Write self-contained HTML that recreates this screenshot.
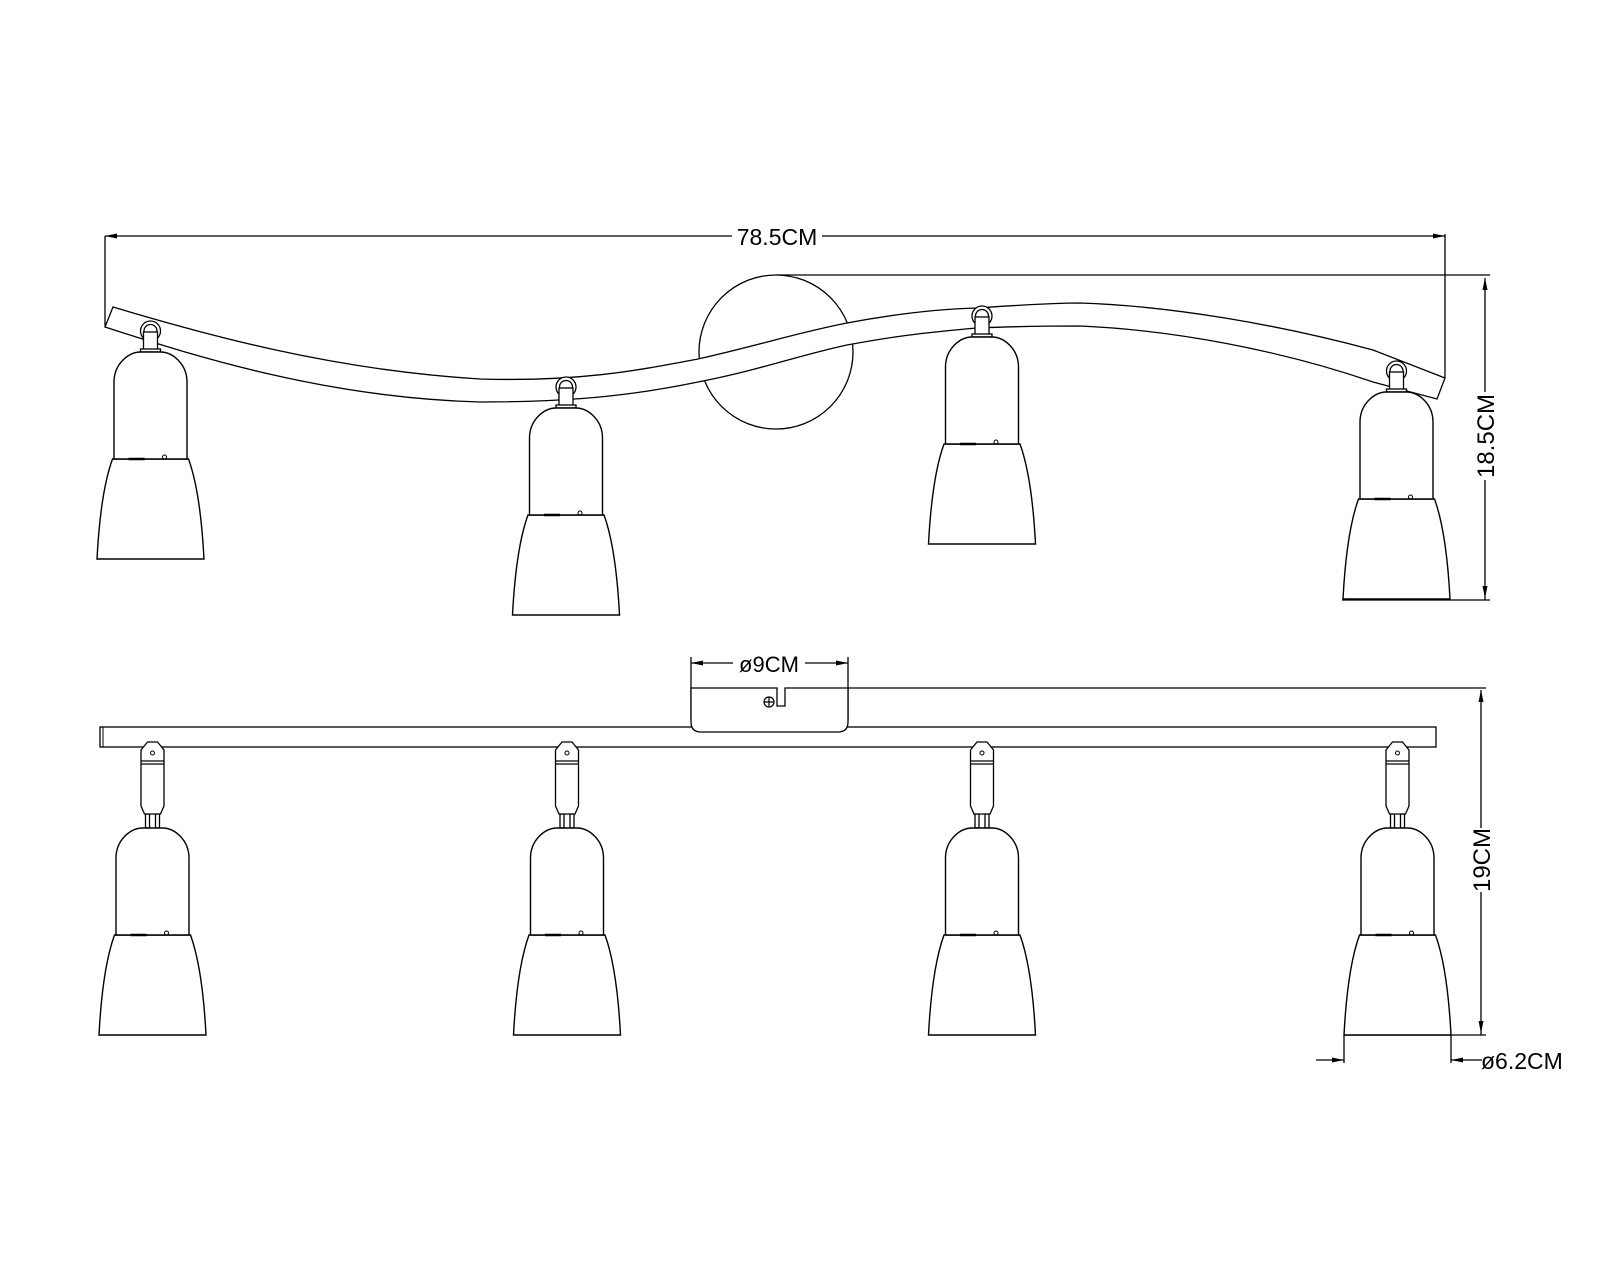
<!DOCTYPE html>
<html><head><meta charset="utf-8"><style>
html,body{margin:0;padding:0;background:#fff;}
svg{display:block}
text{font-family:"Liberation Sans",sans-serif;fill:#000;}
</style></head><body>
<svg width="1600" height="1280" viewBox="0 0 1600 1280" xmlns="http://www.w3.org/2000/svg">
<defs>
<g id="lamp" fill="#fff" stroke="#000" stroke-width="1.4">
  <path d="M-38,107 Q-50,140 -53.5,207 L53.5,207 Q50,140 38,107 Z"/>
  <path d="M-36.5,107 L-36.5,30 C-36.5,12 -22,0 -10,0 L10,0 C22,0 36.5,12 36.5,30 L36.5,107 Z"/>
  <path d="M-22,107 L-6,107" stroke-width="2.5"/>
  <circle cx="14" cy="105" r="2" fill="none" stroke-width="1"/>
</g>
<g id="neckT" fill="#fff" stroke="#000" stroke-width="1.3">
  <circle cx="0" cy="-21" r="10"/>
  <circle cx="0" cy="-21" r="6.5"/>
  <rect x="-7" y="-20" width="14" height="18"/>
  <rect x="-10" y="-3" width="20" height="3"/>
</g>
<g id="neckB" fill="#fff" stroke="#000" stroke-width="1.3">
  <rect x="-7" y="-14" width="4" height="14"/>
  <rect x="3" y="-14" width="4" height="14"/>
  <path d="M-11.5,-78 L-5,-86 L5,-86 L11.5,-78 L11.5,-22 L8,-14 L-8,-14 L-11.5,-22 Z"/>
  <path d="M-11.5,-67 L11.5,-67 M-11.5,-64 L11.5,-64" fill="none"/>
  <circle cx="0" cy="-75" r="2" fill="none" stroke-width="1"/>
</g>
</defs>

<g fill="none" stroke="#000" stroke-width="1.3">
<!-- top view dimension 78.5 -->
<line x1="105" y1="236" x2="1445" y2="236"/>
<line x1="105" y1="236" x2="105" y2="326"/>
<line x1="1445" y1="234" x2="1445" y2="378"/>
<line x1="776" y1="275" x2="1490" y2="275"/>
<line x1="1485" y1="278" x2="1485" y2="600"/>
<line x1="1342" y1="600" x2="1490" y2="600"/>
</g>
<g fill="#000">
<polygon points="105,236 117,233.5 117,238.5"/>
<polygon points="1445,236 1433,233.5 1433,238.5"/>
<polygon points="1485,278 1482.5,290 1487.5,290"/>
<polygon points="1485,598 1482.5,586 1487.5,586"/>
</g>
<rect x="732" y="224" width="90" height="24" fill="#fff"/>
<text x="777" y="245" font-size="23" text-anchor="middle">78.5CM</text>
<rect x="1472" y="392" width="26" height="88" fill="#fff"/>
<text transform="translate(1494,436) rotate(-90)" font-size="24" text-anchor="middle">18.5CM</text>

<!-- circle plate -->
<ellipse cx="776" cy="352" rx="77" ry="77" fill="#fff" stroke="#000" stroke-width="1.3"/>

<!-- curved bar -->
<path fill="#fff" stroke="#000" stroke-width="1.3" d="M113,307 C200,333 330,370 480,379 C580,382 640,370 698,359 C760,345 800,332 847,323 C900,313 940,309 977,308 C1020,305 1060,303 1080,303 C1173,306 1280,325 1373,350 L1445,378 L1437,399 L1373,382 C1280,350 1173,330 1080,326 C1040,326 1000,327 977,328 C920,333 890,337 847,345 C800,355 760,370 698,382 C640,394 580,402 480,402 C330,398 200,358 105,327 Z"/>

<!-- top lamps -->
<use href="#neckT" transform="translate(150.5,352)"/>
<use href="#lamp" transform="translate(150.5,352)"/>
<use href="#neckT" transform="translate(566,408)"/>
<use href="#lamp" transform="translate(566,408)"/>
<use href="#neckT" transform="translate(982,337)"/>
<use href="#lamp" transform="translate(982,337)"/>
<use href="#neckT" transform="translate(1396.5,392)"/>
<use href="#lamp" transform="translate(1396.5,392)"/>

<!-- bottom view -->
<g fill="none" stroke="#000" stroke-width="1.3">
<line x1="691" y1="663" x2="848" y2="663"/>
<line x1="691" y1="657" x2="691" y2="720"/>
<line x1="848" y1="657" x2="848" y2="720"/>
<line x1="848" y1="688" x2="1486" y2="688"/>
<line x1="1481" y1="690" x2="1481" y2="1035"/>
<line x1="1344" y1="1035" x2="1486" y2="1035"/>
<line x1="1344" y1="1035" x2="1344" y2="1063"/>
<line x1="1451" y1="1035" x2="1451" y2="1063"/>
<line x1="1316" y1="1060" x2="1344" y2="1060"/>
<line x1="1451" y1="1060" x2="1482" y2="1060"/>
</g>
<g fill="#000">
<polygon points="691,663 703,660.5 703,665.5"/>
<polygon points="848,663 836,660.5 836,665.5"/>
<polygon points="1481,690 1478.5,702 1483.5,702"/>
<polygon points="1481,1033 1478.5,1021 1483.5,1021"/>
<polygon points="1344,1060 1332,1057.5 1332,1062.5"/>
<polygon points="1451,1060 1463,1057.5 1463,1062.5"/>
</g>
<rect x="733" y="652" width="72" height="22" fill="#fff"/>
<text x="769" y="672" font-size="22" text-anchor="middle">ø9CM</text>
<rect x="1468" y="828" width="26" height="64" fill="#fff"/>
<text transform="translate(1490,860) rotate(-90)" font-size="24" text-anchor="middle">19CM</text>
<text x="1481" y="1069" font-size="23">ø6.2CM</text>

<rect x="100" y="727" width="1336" height="20" fill="#fff" stroke="#000" stroke-width="1.3"/>
<line x1="103" y1="727" x2="103" y2="747" stroke="#000" stroke-width="1"/>
<path d="M691,688 L691,722 Q691,732 701,732 L838,732 Q848,732 848,722 L848,688 L785,688 L785,706 L777,706 L777,688 Z" fill="#fff" stroke="#000" stroke-width="1.3"/>
<g fill="none" stroke="#000" stroke-width="1.2">
<circle cx="769" cy="702" r="5"/>
<path d="M764,702 L774,702 M769,697 L769,707"/>
</g>

<use href="#neckB" transform="translate(152.5,828)"/>
<use href="#lamp" transform="translate(152.5,828)"/>
<use href="#neckB" transform="translate(567,828)"/>
<use href="#lamp" transform="translate(567,828)"/>
<use href="#neckB" transform="translate(982,828)"/>
<use href="#lamp" transform="translate(982,828)"/>
<use href="#neckB" transform="translate(1397.5,828)"/>
<use href="#lamp" transform="translate(1397.5,828)"/>
</svg>
</body></html>
